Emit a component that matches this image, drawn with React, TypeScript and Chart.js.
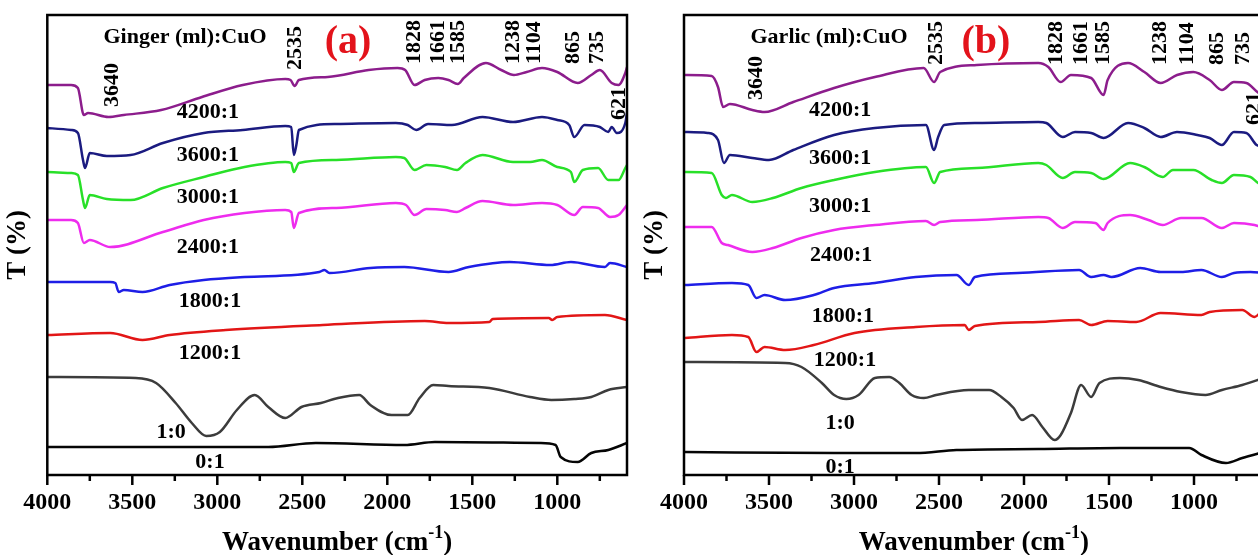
import React, { useEffect, useRef } from "react";
import { Chart, registerables } from "chart.js";
Chart.register(...registerables);

type Pt = [number, number];

const FONT = '"Liberation Serif", "Times New Roman", Times, serif';
const WN_MIN = 590;
const WN_MAX = 4000;
const T_MAX = 460;

const tickLabels = [4000, 3500, 3000, 2500, 2000, 1500, 1000];
const minorTicks = [3750, 3250, 2750, 2250, 1750, 1250, 750];

const seriesNames = ["4200:1", "3600:1", "3000:1", "2400:1", "1800:1", "1200:1", "1:0", "0:1"];
const seriesColors = ["#8c1d8c", "#1b1b80", "#28e028", "#ee2cee", "#1e1ee6", "#e21616", "#3c3c3c", "#050505"];
const peakNames = ["3640", "2535", "1828", "1661", "1585", "1238", "1104", "865", "735", "621"];

// ---------- Panel (a): Ginger (ml):CuO  — [wavenumber, T (offset, a.u.)]
const gingerT4200: Pt[] = [
  [4000, 390], [3860, 390], [3820, 387], [3785, 360], [3760, 362], [3640, 358], [3550, 360], [3330, 365],
  [3090, 378], [2850, 390], [2600, 396], [2569, 395], [2545, 389], [2520, 395], [2350, 398], [2110, 405],
  [1940, 407], [1895, 405], [1840, 390], [1780, 395], [1700, 397], [1640, 395], [1585, 391], [1550, 397],
  [1420, 412], [1330, 405], [1255, 400], [1180, 403], [1090, 407], [1000, 403], [880, 392], [800, 400],
  [750, 405], [680, 392], [640, 390], [600, 402], [590, 408],
];
const gingerT3600: Pt[] = [
  [4000, 347], [3860, 345], [3820, 342], [3790, 315], [3778, 307], [3750, 322], [3650, 319], [3510, 320],
  [3320, 332], [3080, 342], [2850, 345], [2600, 349], [2565, 348], [2550, 320], [2535, 330], [2520, 345],
  [2300, 351], [1950, 352], [1880, 350], [1830, 345], [1760, 351], [1620, 350], [1440, 358], [1260, 353],
  [1090, 358], [1000, 355], [930, 350], [900, 338], [840, 350], [750, 348], [700, 343], [680, 348],
  [650, 342], [600, 352], [590, 362],
];
const gingerT3000: Pt[] = [
  [4000, 303], [3860, 302], [3820, 300], [3790, 275], [3778, 267], [3750, 280], [3650, 276], [3510, 275],
  [3320, 287], [3080, 298], [2840, 308], [2600, 313], [2565, 312], [2550, 303], [2520, 312], [2300, 315],
  [1950, 318], [1900, 317], [1840, 305], [1770, 310], [1660, 308], [1590, 305], [1540, 312], [1440, 320],
  [1260, 313], [1160, 313], [1090, 315], [1000, 308], [920, 303], [900, 293], [850, 305], [760, 307],
  [700, 295], [640, 295], [600, 307], [590, 310],
];
const gingerT2400: Pt[] = [
  [4000, 255], [3860, 255], [3820, 252], [3785, 232], [3750, 235], [3630, 228], [3320, 243], [3080, 255],
  [2840, 262], [2600, 265], [2565, 263], [2550, 247], [2520, 262], [2300, 267], [1950, 272], [1890, 270],
  [1840, 260], [1770, 266], [1660, 265], [1590, 263], [1540, 267], [1440, 274], [1260, 270], [1090, 272],
  [1000, 270], [900, 260], [850, 268], [760, 267], [690, 258], [640, 260], [590, 270],
];
const gingerT1800: Pt[] = [
  [4000, 193], [3630, 193], [3600, 192], [3580, 183], [3550, 185], [3440, 183], [3280, 190], [3080, 195],
  [2840, 198], [2400, 203], [2370, 205], [2340, 202], [2100, 207], [1900, 208], [1640, 203], [1520, 208],
  [1280, 213], [1040, 210], [920, 213], [720, 208], [690, 212], [590, 208],
];
const gingerT1200: Pt[] = [
  [4000, 140], [3630, 142], [3440, 135], [3280, 140], [2950, 145], [2380, 150], [1780, 154], [1640, 152],
  [1400, 153], [1380, 156], [1050, 157], [1030, 155], [1000, 158], [720, 160], [590, 155],
];
const gingerT10: Pt[] = [
  [4000, 98], [3480, 97], [3360, 92], [3245, 72], [3150, 52], [3065, 39], [2985, 43], [2885, 65],
  [2780, 80], [2700, 68], [2600, 57], [2505, 68], [2390, 72], [2290, 77], [2165, 80], [2100, 70],
  [1975, 60], [1880, 60], [1810, 77], [1730, 90], [1640, 89], [1400, 87], [1160, 78], [1035, 75],
  [900, 76], [800, 78], [700, 85], [590, 88],
];
const gingerT01: Pt[] = [
  [4000, 28], [3000, 28], [2700, 28], [2420, 32], [1900, 30], [1720, 33], [1100, 32], [1010, 30],
  [980, 18], [880, 13], [800, 22], [700, 25], [590, 32],
];

// ---------- Panel (b): Garlic (ml):CuO
const garlicT4200: Pt[] = [
  [3994, 400], [3837, 399], [3800, 388], [3770, 368], [3730, 371], [3598, 365], [3526, 363], [3357, 373],
  [3117, 387], [2877, 398], [2590, 407], [2529, 393], [2493, 403], [2277, 410], [1916, 412], [1857, 408],
  [1784, 393], [1724, 400], [1605, 397], [1532, 380], [1508, 395], [1388, 412], [1292, 403], [1196, 392],
  [1100, 400], [1004, 403], [908, 395], [836, 385], [765, 393], [692, 392], [620, 382], [590, 380],
];
const garlicT3600: Pt[] = [
  [3994, 343], [3861, 342], [3800, 335], [3765, 312], [3730, 320], [3598, 317], [3500, 315], [3357, 325],
  [3117, 340], [2877, 347], [2577, 350], [2529, 325], [2505, 338], [2469, 350], [2277, 352], [1916, 353],
  [1869, 352], [1772, 338], [1700, 343], [1605, 342], [1532, 337], [1388, 352], [1292, 347], [1196, 338],
  [1100, 343], [980, 340], [908, 337], [836, 330], [765, 343], [692, 342], [632, 330], [590, 328],
];
const garlicT3000: Pt[] = [
  [3994, 303], [3837, 302], [3778, 280], [3754, 277], [3718, 280], [3598, 273], [3477, 277], [3309, 287],
  [3117, 295], [2877, 303], [2577, 308], [2529, 292], [2493, 303], [2277, 307], [1916, 312], [1869, 310],
  [1772, 297], [1700, 303], [1605, 302], [1532, 296], [1376, 312], [1292, 308], [1184, 298], [1124, 305],
  [1004, 305], [896, 295], [836, 292], [765, 300], [668, 298], [608, 291], [590, 292],
];
const garlicT2400: Pt[] = [
  [3994, 248], [3837, 248], [3778, 232], [3742, 230], [3598, 223], [3477, 227], [3309, 237], [3117, 245],
  [2877, 250], [2577, 254], [2529, 250], [2493, 253], [2277, 255], [1916, 258], [1857, 257], [1772, 247],
  [1700, 253], [1581, 252], [1532, 245], [1508, 252], [1376, 260], [1268, 255], [1184, 250], [1076, 257],
  [956, 257], [836, 247], [765, 252], [644, 250], [590, 247],
];
const garlicT1800: Pt[] = [
  [3994, 190], [3718, 192], [3622, 190], [3574, 177], [3526, 180], [3405, 175], [3237, 180], [3117, 187],
  [2877, 192], [2637, 198], [2397, 200], [2325, 190], [2289, 198], [2036, 202], [1676, 205], [1605, 198],
  [1532, 200], [1484, 198], [1316, 207], [1196, 203], [1076, 203], [956, 205], [836, 198], [765, 202],
  [668, 203], [590, 202],
];
const garlicT1200: Pt[] = [
  [3994, 137], [3718, 140], [3622, 138], [3574, 123], [3526, 128], [3405, 125], [3237, 130], [2997, 142],
  [2637, 148], [2349, 150], [2325, 145], [2289, 149], [1916, 153], [1676, 155], [1605, 150], [1508, 154],
  [1340, 153], [1196, 162], [956, 160], [908, 163], [716, 165], [644, 158], [608, 163], [590, 167],
];
const garlicT10: Pt[] = [
  [3994, 113], [3405, 112], [3309, 108], [3189, 92], [3117, 80], [3045, 76], [2973, 80], [2877, 97],
  [2793, 98], [2733, 92], [2661, 80], [2589, 77], [2517, 80], [2325, 85], [2205, 85], [2133, 78],
  [2061, 67], [2012, 55], [1952, 60], [1892, 48], [1820, 35], [1784, 40], [1724, 62], [1664, 90],
  [1605, 78], [1556, 92], [1436, 97], [1328, 95], [1196, 88], [1076, 83], [932, 80], [836, 85],
  [716, 90], [590, 97],
];
const garlicT01: Pt[] = [
  [3994, 23], [3117, 22], [2637, 22], [2397, 25], [1916, 26], [1436, 27], [1028, 27], [956, 20],
  [812, 12], [716, 17], [590, 23],
];

// ---------- annotation anchors (in data units: [wavenumber, T])
const seriesLabelAtA: Pt[] = [[3055, 363], [3055, 320], [3055, 278], [3055, 228], [3043, 174], [3043, 122], [3272, 43], [3043, 13]];
const peakAtA: Pt[] = [[3619, 368], [2543, 405], [1843, 411], [1702, 411], [1580, 411], [1257, 411], [1133, 411], [904, 411], [763, 411], [634, 355]];
const seriesLabelAtB: Pt[] = [[3082, 365], [3082, 317], [3082, 269], [3076, 220], [3065, 159], [3053, 115], [3082, 52], [3082, 8]];
const peakAtB: Pt[] = [[3574, 375], [2518, 410], [1809, 410], [1665, 410], [1532, 410], [1196, 410], [1041, 410], [860, 410], [712, 410], [647, 350]];

interface PanelCfg {
  series: Pt[][];
  title: string;
  titleAt: Pt;
  letter: string;
  letterAt: Pt;
  seriesLabelAt: Pt[];
  peakAt: Pt[];
  padLeft: number;
  padRight: number;
}

const panelA: PanelCfg = {
  series: [gingerT4200, gingerT3600, gingerT3000, gingerT2400, gingerT1800, gingerT1200, gingerT10, gingerT01],
  title: "Ginger (ml):CuO",
  titleAt: [3190, 438],
  letter: "(a)",
  letterAt: [2231, 432],
  seriesLabelAt: seriesLabelAtA,
  peakAt: peakAtA,
  padLeft: 47.3,
  padRight: 13,
};

const panelB: PanelCfg = {
  series: [garlicT4200, garlicT3600, garlicT3000, garlicT2400, garlicT1800, garlicT1200, garlicT10, garlicT01],
  title: "Garlic (ml):CuO",
  titleAt: [3147, 438],
  letter: "(b)",
  letterAt: [2224, 432],
  seriesLabelAt: seriesLabelAtB,
  peakAt: peakAtB,
  padLeft: 44,
  padRight: 16.3,
};

function makePlugin(cfg: PanelCfg) {
  return {
    id: "ftirAnnot",
    afterDraw(chart: any) {
      const { ctx, chartArea } = chart;
      const xs = chart.scales.x;
      const ys = chart.scales.y;
      const px = (w: number) => xs.getPixelForValue(w);
      const py = (t: number) => ys.getPixelForValue(t);
      ctx.save();
      ctx.fillStyle = "#000";
      ctx.strokeStyle = "#000";

      // frame
      ctx.lineWidth = 2.5;
      ctx.strokeRect(chartArea.left, chartArea.top, chartArea.right - chartArea.left, chartArea.bottom - chartArea.top);

      // tick marks
      ctx.lineWidth = 2.5;
      const ticks = [...tickLabels.map((v) => [v, 10]), ...minorTicks.map((v) => [v, 6])];
      ticks.forEach(([v, len]) => {
        const x = px(v);
        ctx.beginPath();
        ctx.moveTo(x, chartArea.bottom);
        ctx.lineTo(x, chartArea.bottom + len);
        ctx.stroke();
      });

      // series labels
      ctx.font = `bold 22px ${FONT}`;
      ctx.textAlign = "center";
      ctx.textBaseline = "middle";
      cfg.seriesLabelAt.forEach(([w, t], i) => ctx.fillText(seriesNames[i], px(w), py(t)));

      // peak labels (rotated)
      peakNames.forEach((s, i) => {
        const [w, t] = cfg.peakAt[i];
        ctx.save();
        ctx.translate(px(w), py(t));
        ctx.rotate(-Math.PI / 2);
        ctx.textAlign = "left";
        ctx.textBaseline = "middle";
        ctx.fillText(s, 0, 0);
        ctx.restore();
      });

      // panel title
      ctx.font = `bold 22px ${FONT}`;
      ctx.textAlign = "center";
      ctx.fillText(cfg.title, px(cfg.titleAt[0]), py(cfg.titleAt[1]));

      // panel letter
      ctx.font = `bold 40px ${FONT}`;
      ctx.fillStyle = "#e3131b";
      ctx.fillText(cfg.letter, px(cfg.letterAt[0]), py(cfg.letterAt[1]));
      ctx.fillStyle = "#000";

      // y title
      ctx.save();
      ctx.translate(chartArea.left - 29, (chartArea.top + chartArea.bottom) / 2);
      ctx.rotate(-Math.PI / 2);
      ctx.font = `bold 27px ${FONT}`;
      ctx.textAlign = "center";
      ctx.textBaseline = "middle";
      ctx.fillText("T (%)", 0, 0);
      ctx.restore();

      // x title with superscript
      const cx = (chartArea.left + chartArea.right) / 2;
      const base = 550;
      const mainFont = `bold 27px ${FONT}`;
      const supFont = `bold 18px ${FONT}`;
      ctx.textAlign = "left";
      ctx.textBaseline = "alphabetic";
      ctx.font = mainFont;
      const w1 = ctx.measureText("Wavenumber (cm").width;
      const w3 = ctx.measureText(")").width;
      ctx.font = supFont;
      const w2 = ctx.measureText("-1").width;
      let x0 = cx - (w1 + w2 + w3) / 2;
      ctx.font = mainFont;
      ctx.fillText("Wavenumber (cm", x0, base);
      x0 += w1;
      ctx.font = supFont;
      ctx.fillText("-1", x0, base - 12);
      x0 += w2;
      ctx.font = mainFont;
      ctx.fillText(")", x0, base);

      ctx.restore();
    },
  };
}

function Panel({ cfg, left }: { cfg: PanelCfg; left: number }) {
  const ref = useRef<HTMLCanvasElement | null>(null);
  useEffect(() => {
    if (!ref.current) return;
    const chart = new Chart(ref.current, {
      type: "line",
      data: {
        datasets: cfg.series.map((pts, i) => ({
          label: seriesNames[i],
          data: pts.map(([w, t]) => ({ x: w, y: t })),
          borderColor: seriesColors[i],
          backgroundColor: seriesColors[i],
          borderWidth: 2.5,
          pointRadius: 0,
          fill: false,
          cubicInterpolationMode: "monotone" as const,
        })),
      },
      options: {
        animation: false,
        responsive: false,
        devicePixelRatio: 1,
        events: [],
        layout: { padding: { left: cfg.padLeft, right: cfg.padRight, top: 15, bottom: 0 } },
        plugins: { legend: { display: false }, tooltip: { enabled: false } },
        scales: {
          x: {
            type: "linear",
            reverse: true,
            min: WN_MIN,
            max: WN_MAX,
            grid: { display: false, drawTicks: false },
            border: { display: false },
            afterBuildTicks: (scale: any) => {
              scale.ticks = tickLabels.map((v) => ({ value: v }));
            },
            afterFit: (scale: any) => {
              scale.height = 80;
            },
            ticks: {
              padding: 13,
              maxRotation: 0,
              autoSkip: false,
              color: "#000",
              font: { family: FONT, size: 24, weight: "bold" },
              callback: (v: any) => String(v),
            },
          },
          y: {
            type: "linear",
            display: false,
            min: 0,
            max: T_MAX,
          },
        },
      },
      plugins: [makePlugin(cfg)],
    } as any);
    return () => chart.destroy();
  }, [cfg]);
  return (
    <canvas
      ref={ref}
      width={640}
      height={555}
      style={{ position: "absolute", left, top: 0, width: 640, height: 555 }}
    />
  );
}

export default function App() {
  return (
    <div
      style={{
        position: "fixed",
        left: 0,
        top: 0,
        width: 1258,
        height: 555,
        overflow: "hidden",
        background: "#fff",
      }}
    >
      <Panel cfg={panelA} left={0} />
      <Panel cfg={panelB} left={640} />
    </div>
  );
}
